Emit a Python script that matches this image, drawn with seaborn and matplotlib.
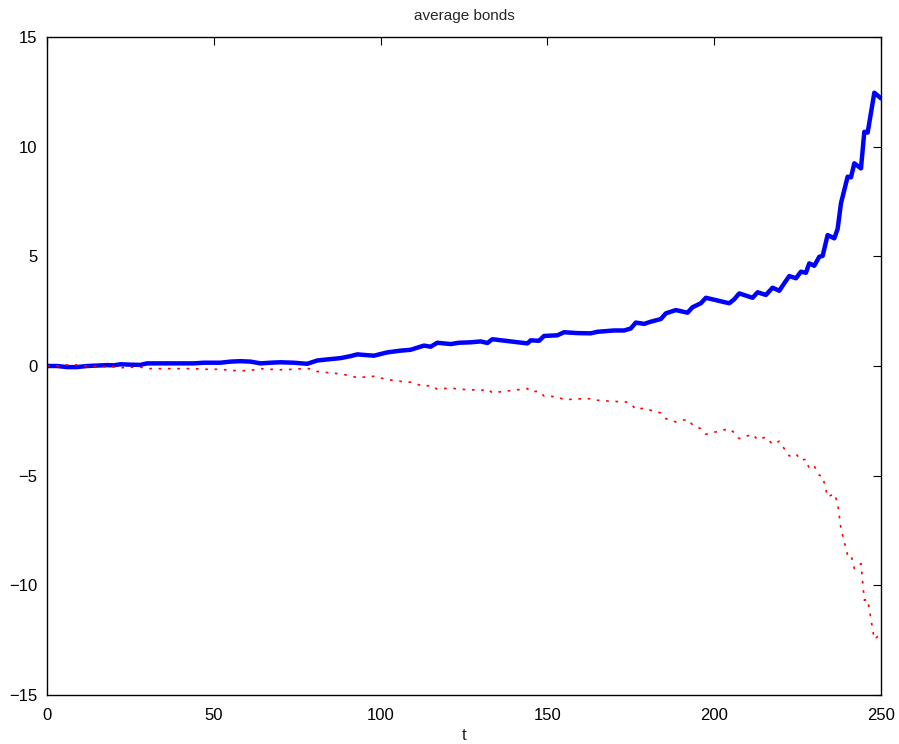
import matplotlib
matplotlib.use("Agg")
import matplotlib.pyplot as plt
import seaborn as sns
import pandas as pd

t = [0, 3, 6, 9, 12, 15, 18, 20, 22, 25, 28, 30, 44, 47, 52, 55, 58, 61, 64, 67,
     70, 74, 78, 81, 84, 88, 91, 93, 98, 102, 106, 109, 113, 115, 117, 121, 123.5,
     127, 130, 132, 133.5, 144, 145, 147.5, 149, 153, 155, 159, 163, 165, 170, 173,
     175, 176.5, 179, 181, 184, 185.5, 188.5, 192, 193.5, 196, 197.5, 204.5, 206,
     207.5, 211.5, 213, 215.5, 217.5, 219.5, 221, 222.5, 224.5, 226, 227.5, 228.5,
     230, 231.5, 232.5, 234, 236, 237, 238, 240, 241, 242, 244, 245, 246, 248, 250]

buy = [0.0, 0.0, -0.05, -0.05, 0.0, 0.02, 0.04, 0.03, 0.08, 0.06, 0.05, 0.12, 0.12,
       0.15, 0.15, 0.2, 0.22, 0.2, 0.12, 0.15, 0.17, 0.15, 0.1, 0.25, 0.3, 0.36, 0.45,
       0.53, 0.47, 0.62, 0.70, 0.74, 0.93, 0.88, 1.06, 1.00, 1.06, 1.08, 1.12, 1.05,
       1.22, 1.03, 1.17, 1.15, 1.37, 1.40, 1.54, 1.50, 1.49, 1.56, 1.62, 1.62, 1.71,
       1.98, 1.92, 2.02, 2.14, 2.40, 2.55, 2.43, 2.68, 2.86, 3.11, 2.86, 3.04, 3.31,
       3.11, 3.36, 3.24, 3.57, 3.43, 3.77, 4.10, 4.00, 4.30, 4.25, 4.68, 4.57, 4.98,
       5.02, 5.97, 5.82, 6.25, 7.42, 8.63, 8.60, 9.24, 9.01, 10.68, 10.64, 12.46, 12.2]

sell = [0.0, 0.0, 0.05, 0.05, 0.0, -0.02, -0.04, -0.03, -0.08, -0.06, -0.05, -0.12,
        -0.12, -0.15, -0.15, -0.2, -0.22, -0.2, -0.12, -0.15, -0.17, -0.15, -0.1,
        -0.25, -0.3, -0.36, -0.45, -0.53, -0.47, -0.62, -0.70, -0.74, -0.93, -0.88,
        -1.06, -1.00, -1.06, -1.08, -1.12, -1.05, -1.22, -1.03, -1.17, -1.15, -1.37,
        -1.40, -1.54, -1.50, -1.49, -1.56, -1.62, -1.62, -1.71, -1.98, -1.92, -2.02,
        -2.14, -2.40, -2.55, -2.43, -2.68, -2.86, -3.11, -2.86, -3.04, -3.31, -3.11,
        -3.36, -3.24, -3.57, -3.43, -3.77, -4.10, -4.00, -4.30, -4.25, -4.68, -4.57,
        -4.98, -5.02, -5.97, -5.82, -6.25, -7.42, -8.63, -8.60, -9.24, -9.01, -10.68,
        -10.64, -12.46, -12.2]

x_ticks = [0, 50, 100, 150, 200, 250]
y_ticks = [-15, -10, -5, 0, 5, 10, 15]

df = pd.DataFrame({"t": t, "buy": buy, "sell": sell})

sns.set_theme(style="white")
plt.rcParams["font.family"] = ["Liberation Sans", "DejaVu Sans"]
plt.rcParams["axes.unicode_minus"] = True

fig = plt.figure(figsize=(8.99, 7.44), dpi=100)
ax = fig.add_axes([47 / 899, 1 - 695 / 744, (881 - 47) / 899, (695 - 37) / 744])

sns.lineplot(data=df, x="t", y="buy", ax=ax, color="#0000ff", linewidth=3.2,
             estimator=None, sort=False)
sns.lineplot(data=df, x="t", y="sell", ax=ax, color="#ff0000", linewidth=1.2,
             estimator=None, sort=False, dashes=False)
ax.lines[-1].set_dashes((1.6, 4.0))

ax.set_xlim(0, 250)
ax.set_ylim(-15, 15)
ax.set_xticks(x_ticks)
ax.set_yticks(y_ticks)
ax.set_xticklabels([str(v) for v in x_ticks])
ax.set_yticklabels([str(v).replace("-", "\u2212") for v in y_ticks])
ax.tick_params(direction="in", top=True, right=True, length=6, width=0.8,
               labelsize=12, colors="black")
ax.tick_params(axis="x", pad=9)
ax.tick_params(axis="y", pad=7)
for s in ax.spines.values():
    s.set_visible(True)
    s.set_color("black")
    s.set_linewidth(1.0)

ax.set_xlabel("t", fontsize=12, labelpad=4)
ax.set_ylabel("")
ax.set_title("average bonds", fontsize=11, pad=12)

fig.savefig("out.png", dpi=100)
